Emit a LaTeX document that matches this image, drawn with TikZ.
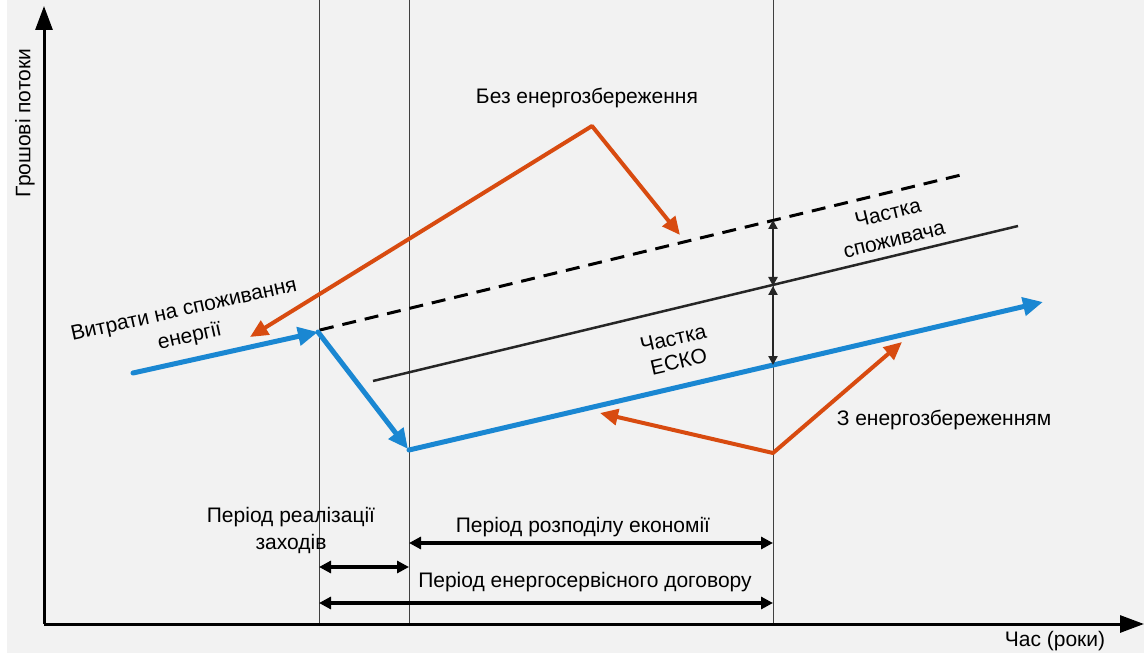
\documentclass[tikz,border=0pt]{standalone}
\usepackage{fontspec}
\setmainfont{Liberation Sans}
\usetikzlibrary{arrows.meta}
\definecolor{bg}{HTML}{F2F2F2}
\definecolor{flowblue}{HTML}{1A87D2}
\definecolor{callout}{HTML}{D84B10}
\begin{document}
\begin{tikzpicture}[x=1pt,y=-1pt,
  lbl/.style={font=\fontsize{21}{27}\selectfont, align=center, inner sep=0pt},
  axis/.style={line width=3pt, -{Triangle[length=24pt,width=17pt]}},
  guide/.style={line width=0.8pt, black!75},
  flow/.style={flowblue, line width=5pt, line cap=round, -{Triangle[length=20pt,width=18pt]}},
  pointer/.style={callout, line width=4pt, line join=round, {Triangle[length=18pt,width=16pt]}-{Triangle[length=18pt,width=16pt]}},
  span/.style={line width=3.5pt, {Triangle[length=12pt,width=12pt]}-{Triangle[length=12pt,width=12pt]}},
  share/.style={line width=2.5pt, black!85, {Triangle[length=9pt,width=9pt]}-{Triangle[length=9pt,width=9pt]}},
]
\useasboundingbox (0,0) rectangle (1144,655);
\fill[white] (0,0) rectangle (1144,655);
\fill[bg] (7,0) rectangle (1144,653);

% key points
\coordinate (O) at (44,624);
\coordinate (Ytop) at (44,6);
\coordinate (Xend) at (1144,624);
\coordinate (v1t) at (319,0);   \coordinate (v1b) at (319,624);
\coordinate (v2t) at (409,0);   \coordinate (v2b) at (409,624);
\coordinate (v3t) at (773,0);   \coordinate (v3b) at (773,624);

% period boundaries
\draw[guide] (v1t) -- (v1b);
\draw[guide] (v2t) -- (v2b);
\draw[guide] (v3t) -- (v3b);

% axes
\draw[axis] (O) -- (Ytop);
\draw[axis] (O) -- (Xend);
\node[lbl, rotate=90] (ylab) at (25,123) {Грошові потоки};
\node[lbl] (xlab) at (1055,641) {Час (роки)};

% cost lines
\coordinate (base0) at (320,330);
\coordinate (base1) at (965,174);
\coordinate (esco0) at (373,381);
\coordinate (esco1) at (1018,226);
\draw[line width=3pt, dash pattern=on 14pt off 9pt] (base0) -- (base1);
\draw[line width=2.5pt, black!85] (esco0) -- (esco1);

% energy cost flow
\coordinate (f0) at (133,373);
\coordinate (f1) at (318,332);
\coordinate (f2) at (408,449);
\coordinate (f3) at (409,450);
\coordinate (f4) at (1043,302);
\draw[flow] (f0) -- (f1);
\draw[flow] (f1) -- (f2);
\draw[flow] (f3) -- (f4);

% shares at the end of the sharing period
\coordinate (sA) at (773,220);
\coordinate (sB) at (773,286);
\coordinate (sC) at (773,365);
\draw[share] (sA) -- (sB);
\draw[share] (sB) -- (sC);

% callouts
\coordinate (pk1) at (592,126);
\coordinate (pl1) at (250,337);
\coordinate (pr1) at (680,235);
\draw[pointer] (pl1) -- (pk1) -- (pr1);
\coordinate (pk2) at (773,453);
\coordinate (pl2) at (600,413);
\coordinate (pr2) at (902,342);
\draw[pointer] (pl2) -- (pk2) -- (pr2);

% labels
\node[lbl] (without) at (587,98) {Без енергозбереження};
\node[lbl] (with) at (944,420) {З енергозбереженням};
\node[lbl, rotate=12.5] (cost) at (187,324) {Витрати на споживання\\енергії};
\node[lbl, rotate=13.5] (consumer) at (891,226) {Частка\\споживача};
\node[lbl, font=\fontsize{21}{24}\selectfont, rotate=13] (esco) at (676,350) {Частка\\ЕСКО};

% periods
\coordinate (p1) at (409,543); \coordinate (p2) at (773,543);
\coordinate (q1) at (319,567); \coordinate (q2) at (409,567);
\coordinate (r1) at (319,603); \coordinate (r2) at (773,603);
\draw[span] (p1) -- (p2);
\draw[span] (q1) -- (q2);
\draw[span] (r1) -- (r2);
\node[lbl] (impl) at (291,530) {Період реалізації\\заходів};
\node[lbl] (share) at (583,527) {Період розподілу економії};
\node[lbl] (contract) at (585,582) {Період енергосервісного договору};
\end{tikzpicture}
\end{document}
